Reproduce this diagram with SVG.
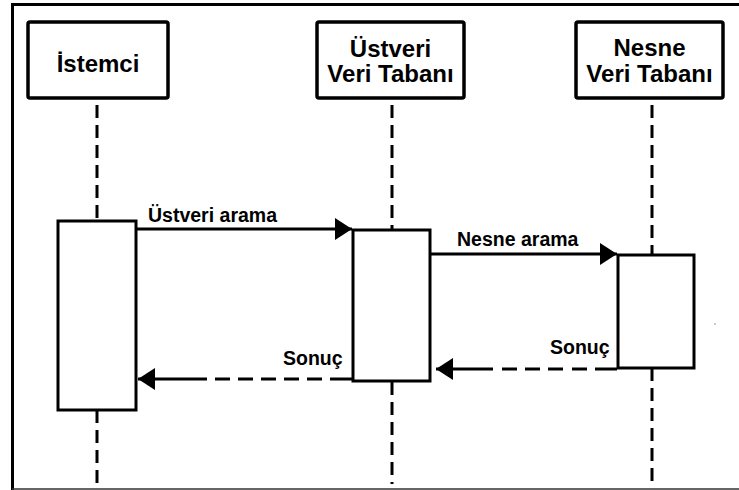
<svg xmlns="http://www.w3.org/2000/svg" width="739" height="490" viewBox="0 0 739 490">
  <style>
    .head { fill: #fff; stroke: #000; stroke-width: 3.5; }
    .act { fill: #fff; stroke: #000; stroke-width: 3; }
    .life { stroke: #000; stroke-width: 3; stroke-dasharray: 13 7; fill: none; }
    .msg { stroke: #000; stroke-width: 3; fill: none; }
    .title { font-family: "Liberation Sans", Arial, sans-serif; font-weight: bold; font-size: 24px; fill: #000; text-anchor: middle; }
    .label { font-family: "Liberation Sans", Arial, sans-serif; font-weight: bold; font-size: 19.5px; fill: #000; }
  </style>
  <defs>
    <marker id="arrow" markerUnits="userSpaceOnUse" viewBox="0 0 17 22" refX="17" refY="11" markerWidth="17" markerHeight="22" orient="auto">
      <path d="M0,0 L17,11 L0,22 Z" fill="#000"/>
    </marker>
  </defs>

  <rect width="739" height="490" fill="#fff"/>

  <!-- frame -->
  <g id="frame">
    <line x1="12.5" y1="3" x2="12.5" y2="490" stroke="#000" stroke-width="3"/>
    <line x1="11" y1="4.5" x2="739" y2="4.5" stroke="#000" stroke-width="3"/>
    <line x1="12" y1="489" x2="739" y2="489" stroke="#333" stroke-width="1.5"/>
  </g>

  <!-- lifelines -->
  <g id="lifelines">
    <line class="life" x1="97" y1="105" x2="97" y2="221"/>
    <line class="life" x1="97" y1="410" x2="97" y2="484"/>
    <line class="life" x1="392" y1="105" x2="392" y2="230"/>
    <line class="life" x1="392" y1="382" x2="392" y2="484"/>
    <line class="life" x1="652" y1="105" x2="652" y2="255"/>
    <line class="life" x1="652" y1="368" x2="652" y2="484"/>
  </g>

  <!-- participants -->
  <g id="istemci">
    <rect class="head" x="28" y="22" width="140" height="76" rx="2"/>
    <text class="title" x="98" y="72">İstemci</text>
  </g>
  <g id="ustveri">
    <rect class="head" x="317" y="22" width="147" height="76" rx="2"/>
    <text class="title" x="390.5" y="57">Üstveri</text>
    <text class="title" x="390.5" y="82">Veri Tabanı</text>
  </g>
  <g id="nesne">
    <rect class="head" x="576" y="22" width="147" height="76" rx="2"/>
    <text class="title" x="649.5" y="56">Nesne</text>
    <text class="title" x="649.5" y="82">Veri Tabanı</text>
  </g>

  <!-- activation bars -->
  <g id="istemci-act">
    <rect class="act" x="58" y="221" width="78" height="189"/>
  </g>
  <g id="ustveri-act">
    <rect class="act" x="353" y="230" width="77" height="151"/>
  </g>
  <g id="nesne-act">
    <rect class="act" x="618" y="255" width="76" height="113"/>
  </g>

  <!-- messages -->
  <g id="connectors">
    <line class="msg" x1="137" y1="229" x2="352" y2="229" marker-end="url(#arrow)"/>
    <line class="msg" x1="431" y1="254" x2="617" y2="254" marker-end="url(#arrow)"/>
    <path class="msg" d="M353,379 H330 M322,379 H307 M299,379 H284 M276,379 H261 M253,379 H238 M230,379 H215 M207,379 H138" marker-end="url(#arrow)"/>
    <path class="msg" d="M617,369 H595 M587,369 H572 M563,369 H548 M540,369 H525 M517,369 H502 M493,369 H436" marker-end="url(#arrow)"/>
  </g>

  <!-- message labels -->
  <g id="labels">
    <text class="label" x="148" y="222">Üstveri arama</text>
    <text class="label" x="457" y="246">Nesne arama</text>
    <text class="label" x="283" y="365">Sonuç</text>
    <text class="label" x="550" y="354">Sonuç</text>
  </g>

  <circle cx="715" cy="324" r="0.8" fill="#888"/>
</svg>
